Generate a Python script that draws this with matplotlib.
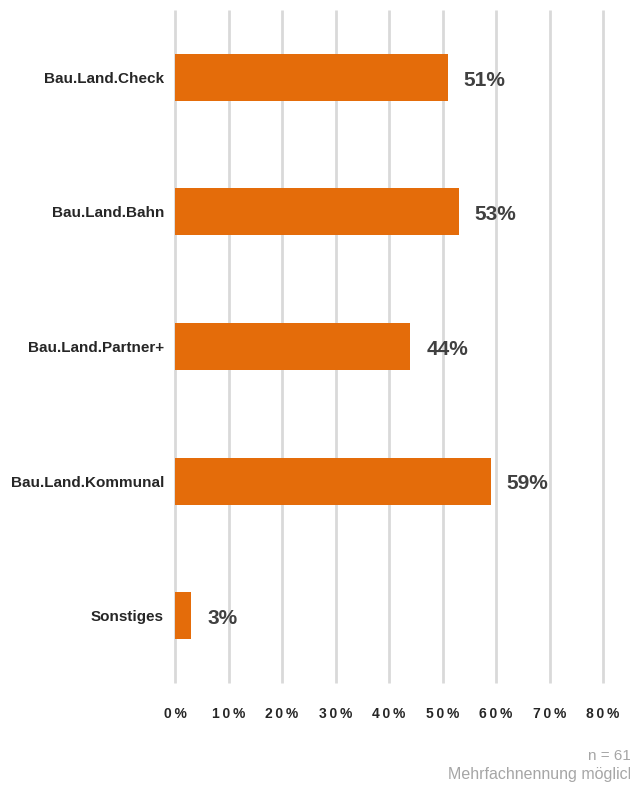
import matplotlib
matplotlib.use("Agg")
import matplotlib.pyplot as plt

# Survey shares per programme (percent)
categories = ["Bau.Land.Check", "Bau.Land.Bahn", "Bau.Land.Partner+",
              "Bau.Land.Kommunal", "Sonstiges"]
values = [51, 53, 44, 59, 3]
xticks = [0, 10, 20, 30, 40, 50, 60, 70, 80]
xtick_labels = [f"{t}%" for t in xticks]

plt.rcParams["font.family"] = ["Liberation Sans", "DejaVu Sans"]


def spaced(s):
    # widen the tick text a little with thin spaces between characters
    return "\u2009".join(s)


fig = plt.figure(figsize=(6.3, 7.85), dpi=100)
ax = fig.add_axes([175 / 630, 1 - 683 / 785, (603 - 175) / 630, (683 - 10) / 785])

ypos = list(range(len(categories)))
ax.barh(ypos, values, height=0.35, color="#E46C0A", zorder=3)

for y, v in zip(ypos, values):
    ax.annotate(f"{v}%", xy=(v, y), xytext=(11.5, -2), textcoords="offset points",
                ha="left", va="center", fontsize=15, fontweight="bold",
                color="#404040", zorder=4)

ax.set_xlim(0, 80)
ax.set_ylim(len(categories) - 0.5, -0.5)
ax.set_xticks(xticks)
ax.set_xticklabels([spaced(t) for t in xtick_labels], fontsize=10,
                   fontweight="bold", color="#262626")
ax.set_yticks(ypos)
ax.set_yticklabels(categories, fontsize=11, fontweight="bold", color="#262626")
ax.tick_params(axis="both", length=0)
ax.tick_params(axis="x", pad=17)
ax.tick_params(axis="y", pad=8)

ax.set_axisbelow(True)
for t in xticks:
    ax.axvline(t, color="#d9d9d9", linewidth=2, zorder=0, clip_on=False,
               solid_capstyle="butt")
for s in ax.spines.values():
    s.set_visible(False)

fig.text(631 / 630, 1 - 756 / 785, "n = 61", ha="right", va="center",
         fontsize=11, color="#a6a6a6")
fig.text(636 / 630, 1 - 774 / 785, "Mehrfachnennung möglich", ha="right", va="center",
         fontsize=11.5, color="#a6a6a6")

fig.savefig("out.png", dpi=100)
